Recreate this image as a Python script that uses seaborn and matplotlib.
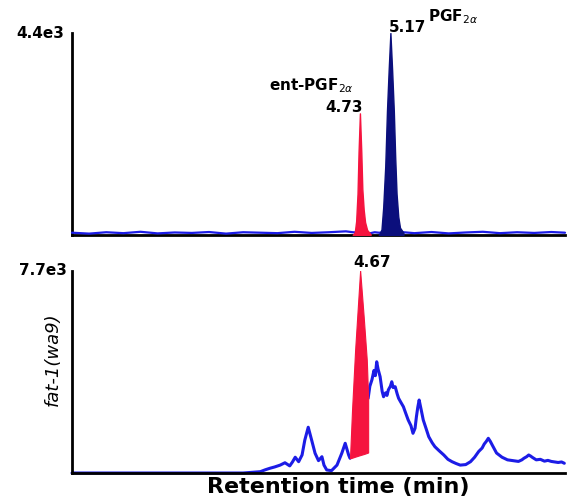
import matplotlib
matplotlib.use("Agg")
import matplotlib.pyplot as plt
import matplotlib.transforms as mtransforms
import numpy as np
import pandas as pd
import seaborn as sns

# ---------------- data (retention time in min, intensity in counts) ----------------
# top panel: baseline trace
top_base_t = [0.50, 0.75, 1.00, 1.25, 1.50, 1.75, 2.00, 2.25, 2.50, 2.75, 3.00, 3.25,
              3.50, 3.75, 4.00, 4.25, 4.50, 4.60, 4.86, 4.92, 4.98, 5.34, 5.50, 5.75,
              6.00, 6.25, 6.50, 6.75, 7.00, 7.25, 7.50, 7.70]
top_base_y = [50, 30, 60, 40, 70, 35, 55, 45, 65, 30, 60, 50,
              40, 70, 45, 60, 80, 60, 40, 60, 50, 60, 40, 65,
              35, 55, 70, 40, 60, 45, 65, 50]
# top panel: ent-PGF2a peak (red) and PGF2a peak (navy)
ent_t = [4.60, 4.63, 4.65, 4.67, 4.685, 4.705, 4.725, 4.74, 4.76, 4.78, 4.81, 4.86]
ent_y = [0, 60, 300, 900, 1800, 2650, 1800, 1000, 550, 280, 110, 20]
pgf_t = [4.98, 5.02, 5.045, 5.075, 5.10, 5.125, 5.15, 5.175, 5.20, 5.22, 5.24, 5.265, 5.29, 5.34]
pgf_y = [0, 120, 600, 1500, 2700, 3600, 4400, 3600, 2700, 1700, 900, 400, 160, 50]

# bottom panel: fat-1(wa9) trace, left and right of the highlighted peak
bot_left_t = [0.50, 1.00, 1.50, 2.00, 2.50, 3.00, 3.15, 3.25, 3.32, 3.39, 3.46, 3.54,
              3.61, 3.68, 3.72, 3.76, 3.81, 3.86, 3.90, 3.95, 4.00, 4.05, 4.10, 4.15,
              4.18, 4.22, 4.29, 4.37, 4.44, 4.49, 4.54, 4.56]
bot_left_y = [0, 0, 0, 0, 0, 0, 30, 50, 120, 180, 230, 300,
              390, 270, 420, 600, 430, 685, 1250, 1740, 1250, 750, 470, 620,
              300, 115, 90, 300, 750, 1130, 685, 560]
bot_right_t = [4.825, 4.85, 4.88, 4.91, 4.93, 4.95, 4.97, 5.00, 5.03, 5.05,
               5.08, 5.10, 5.12, 5.15, 5.17, 5.19, 5.22, 5.25, 5.27, 5.30,
               5.34, 5.37, 5.41, 5.45, 5.48, 5.51, 5.53, 5.55, 5.57, 5.60,
               5.63, 5.67, 5.71, 5.76, 5.80, 5.86, 5.93, 5.99, 6.05, 6.11,
               6.17, 6.25, 6.32, 6.38, 6.44, 6.49, 6.52, 6.55, 6.58, 6.61,
               6.64, 6.70, 6.78, 6.86, 6.94, 7.02, 7.07, 7.10, 7.14, 7.17,
               7.20, 7.22, 7.28, 7.34, 7.40, 7.45, 7.50, 7.55, 7.60, 7.65, 7.69]
bot_right_y = [2840, 3300, 3540, 3900, 3700, 4230, 3950, 3660, 3100, 2900,
               3050, 2950, 3160, 3300, 3470, 3250, 3280, 3000, 2840, 2700,
               2520, 2300, 2015, 1800, 1510, 1700, 2140, 2500, 2775, 2400,
               2015, 1700, 1380, 1150, 1000, 850, 685, 520, 430, 360,
               300, 320, 430, 600, 820, 950, 1100, 1200, 1320, 1200,
               1050, 760, 600, 500, 470, 440, 500, 560, 620, 685,
               640, 600, 500, 520, 450, 480, 440, 420, 400, 420, 370]
# bottom panel: highlighted peak at 4.67 (red), with its integration baseline
red_t = [4.56, 4.59, 4.635, 4.708, 4.76, 4.805, 4.825]
red_y = [560, 2400, 4680, 7700, 5940, 4300, 2840]
red_base = [560, 580, 620, 680, 720, 760, 780]

x_ticks = [1.4, 2.3, 3.2, 4.1, 5.0, 5.9, 6.8]
top_yticks = [1000, 2000, 3000, 4000]
bot_yticks = [1000, 2000, 3000, 4000, 5000, 6000, 7000]

# ---------------- style ----------------
sns.set_style("white")
plt.rcParams["font.family"] = ["DejaVu Sans"]
plt.rcParams["text.color"] = "black"
plt.rcParams["axes.labelcolor"] = "black"

RED = "#f5143f"
NAVY = "#0b0f7c"
BLUE = "#1c1ce6"

fig = plt.figure(figsize=(5.68, 4.99), dpi=100)
W, H = 568, 499
ax1 = fig.add_axes([72 / W, 1 - 235 / H, 493 / W, 202 / H])
ax2 = fig.add_axes([72 / W, 1 - 473 / H, 493 / W, 202.5 / H])

# ---------------- top panel ----------------
df_base = pd.DataFrame({"t": top_base_t, "y": top_base_y})
sns.lineplot(data=df_base, x="t", y="y", ax=ax1, color=BLUE, lw=1.6, sort=False,
             estimator=None, clip_on=False, zorder=3)
ax1.fill_between(ent_t, 0, ent_y, color=RED, lw=1.0, edgecolor=RED, zorder=4)
ax1.fill_between(pgf_t, 0, pgf_y, color=NAVY, lw=1.0, edgecolor=NAVY, zorder=4)

ax1.set_xlim(0.5, 7.7)
ax1.set_ylim(0, 4400)
ax1.set_yticks(top_yticks)
ax1.set_xticks(x_ticks)
ax1.set_yticklabels([])
ax1.set_xticklabels([])
ax1.set_xlabel("")
ax1.set_ylabel("")

# ---------------- bottom panel ----------------
df_l = pd.DataFrame({"t": bot_left_t, "y": bot_left_y})
df_r = pd.DataFrame({"t": bot_right_t, "y": bot_right_y})
sns.lineplot(data=df_l, x="t", y="y", ax=ax2, color=BLUE, lw=2.2, sort=False,
             estimator=None, clip_on=False, zorder=1.5)
sns.lineplot(data=df_r, x="t", y="y", ax=ax2, color=BLUE, lw=2.2, sort=False,
             estimator=None, clip_on=False, zorder=1.5)
ax2.fill_between(red_t, red_base, red_y, color=RED, lw=0.8, edgecolor=RED, zorder=4)

ax2.set_xlim(0.5, 7.7)
ax2.set_ylim(0, 7700)
ax2.set_yticks(bot_yticks)
ax2.set_xticks(x_ticks)
ax2.set_yticklabels([])
ax2.set_xticklabels([])

for ax, z in ((ax1, 2), (ax2, 2.5)):
    for s in ("top", "right"):
        ax.spines[s].set_visible(False)
    for s in ("left", "bottom"):
        ax.spines[s].set_linewidth(2.0)
        ax.spines[s].set_color("black")
        ax.spines[s].set_zorder(z)
    ax.tick_params(direction="out", length=3, width=1.5, colors="black")
    ax.patch.set_alpha(0)

ax2.set_xlabel("Retention time (min)", fontsize=16, fontweight="bold")
ax2.xaxis.set_label_coords((338 - 72) / 493, -0.02)
ax2.set_ylabel("fat-1(wa9)", fontsize=13, fontstyle="italic",
               family=["Liberation Sans Narrow", "DejaVu Sans"])
ax2.yaxis.set_label_coords(-0.02, 0.56)

# ---------------- annotations ----------------
tr1 = mtransforms.blended_transform_factory(ax1.transAxes, ax1.transData)
tr2 = mtransforms.blended_transform_factory(ax2.transAxes, ax2.transData)
ax1.text(-0.015, 4400, "4.4e3", transform=tr1, ha="right", va="center",
         fontsize=11, fontweight="bold")
ax2.text(-0.01, 7700, "7.7e3", transform=tr2, ha="right", va="center",
         fontsize=11, fontweight="bold")

ax1.text(4.61, 3150, r"ent-PGF$_{2\alpha}$", ha="right", va="baseline",
         fontsize=11, fontweight="bold")
ax1.text(4.47, 2680, "4.73", ha="center", va="baseline", fontsize=11, fontweight="bold")
ax1.text(5.40, 4420, "5.17", ha="center", va="baseline", fontsize=11, fontweight="bold")
ax1.text(5.70, 4660, r"PGF$_{2\alpha}$", ha="left", va="baseline",
         fontsize=11, fontweight="bold")
ax2.text(4.88, 7820, "4.67", ha="center", va="baseline", fontsize=11, fontweight="bold")

fig.savefig("out.png", dpi=100)
